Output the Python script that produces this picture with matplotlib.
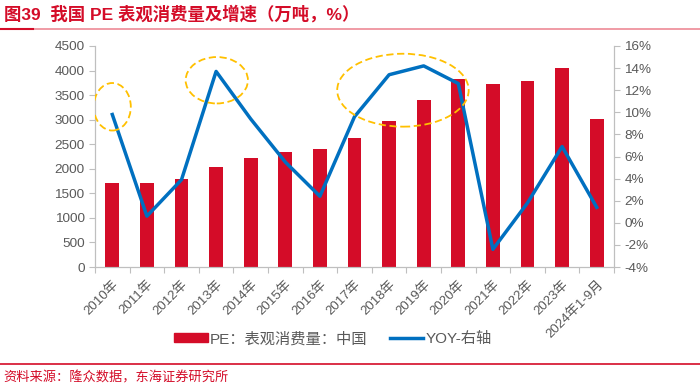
import matplotlib.pyplot as plt
from matplotlib.patches import Ellipse, Patch
from matplotlib.lines import Line2D

plt.rcParams['font.family'] = ['Liberation Sans', 'Noto Sans CJK SC']

years = ["2010年", "2011年", "2012年", "2013年", "2014年", "2015年", "2016年", "2017年",
         "2018年", "2019年", "2020年", "2021年", "2022年", "2023年", "2024年1-9月"]
consumption = [1717, 1720, 1792, 2036, 2226, 2342, 2403, 2621,
               2980, 3395, 3823, 3733, 3794, 4059, 3020]
yoy = [9.8, 0.6, 3.9, 13.7, 9.4, 5.5, 2.4, 9.6,
       13.4, 14.2, 12.6, -2.4, 1.8, 6.9, 1.4]

red = "#D40C28"
blue = "#0070C0"
grey = "#595959"
spine_c = "#BFBFBF"

fig = plt.figure(figsize=(7, 3.89), dpi=100)
ax = fig.add_axes([95 / 700, 1 - 267 / 389, 519 / 700, 221 / 389])
ax2 = ax.twinx()

x = list(range(len(years)))
ax.bar(x, consumption, width=0.4, color=red, zorder=2)
ax2.plot(x, yoy, color=blue, lw=2.5, zorder=3)

ax.set_xlim(-0.5, len(years) - 0.5)
ax.set_ylim(0, 4500)
ax.set_yticks(range(0, 4501, 500))
ax2.set_ylim(-4, 16)
ax2.set_yticks(range(-4, 17, 2))
ax2.set_yticklabels([f"{v}%" for v in range(-4, 17, 2)])

# boundary ticks on major, labels on minor
ax.set_xticks([i - 0.5 for i in range(len(years) + 1)])
ax.set_xticklabels([])
ax.set_xticks(x, minor=True)
ax.set_xticklabels(years, minor=True, rotation=45, ha="right", rotation_mode="anchor")
ax.tick_params(axis="x", which="minor", length=0, labelsize=9.5, labelcolor=grey, pad=8)
ax.tick_params(axis="x", which="major", length=4, color=spine_c)
ax.tick_params(axis="y", length=4, color=spine_c, labelsize=9.7, labelcolor=grey)
ax2.tick_params(axis="y", length=4, color=spine_c, labelsize=9.7, labelcolor=grey)

for a in (ax, ax2):
    a.spines["top"].set_visible(False)
    for s in ("left", "right", "bottom"):
        a.spines[s].set_color(spine_c)

# dashed highlight ellipses
for cx, cy, w, h in [(0, 10.5, 1.07, 4.3), (3.02, 12.9, 1.8, 4.2), (8.4, 12.0, 3.8, 6.6)]:
    ax2.add_patch(Ellipse((cx, cy), w, h, fill=False, ec="#FFC000", ls=(0, (4, 2)), lw=1.3, zorder=4))

handles = [Patch(color=red), Line2D([0], [0], color=blue, lw=2.5)]
fig.legend(handles, ["PE：表观消费量：中国", "YOY-右轴"], loc="center left",
           bbox_to_anchor=(174 / 700, 1 - 339 / 389), ncol=2, frameon=False, fontsize=11,
           labelcolor=grey, handlelength=2.2, handleheight=0.5, handletextpad=0.15,
           columnspacing=1.45, borderpad=0, borderaxespad=0)

fig.text(0.005, 1 - 14 / 389, "图39  我国 PE 表观消费量及增速（万吨，%）", color=red,
         fontsize=12.5, fontweight="bold", va="center", ha="left")
fig.add_artist(Line2D([0, 1], [1 - 29 / 389] * 2, color="#EE8A96", lw=1.2))
fig.add_artist(Line2D([0, 33 / 700], [1 - 29 / 389] * 2, color=red, lw=1.5))
fig.add_artist(Line2D([0, 1], [1 - 364 / 389] * 2, color=red, lw=1.2))
fig.text(0.005, 1 - 378 / 389, "资料来源：隆众数据，东海证券研究所", color=red, fontsize=9.5, va="center", ha="left")

fig.savefig("out.png", dpi=100)
